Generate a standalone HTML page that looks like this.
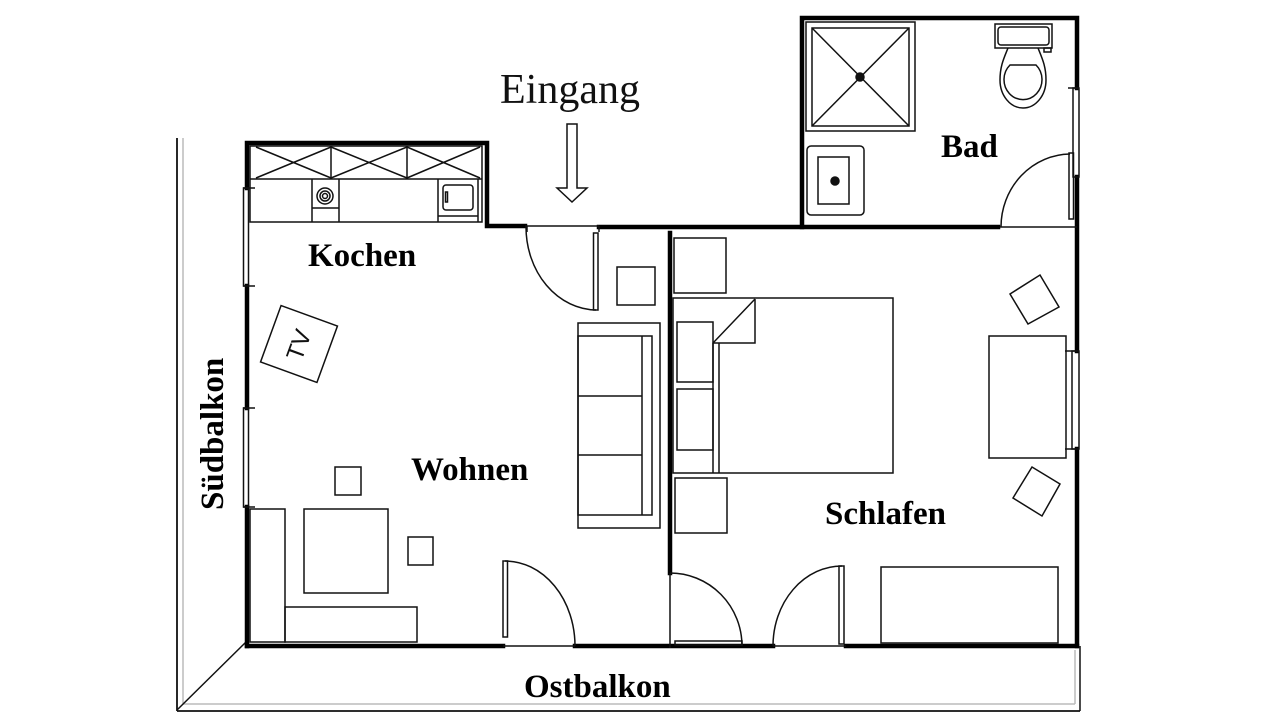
<!DOCTYPE html>
<html><head><meta charset="utf-8"><style>
html,body{margin:0;padding:0;background:#fff;}
svg{display:block;}
.lbl{font-family:"Liberation Serif",serif;font-weight:bold;font-size:33px;fill:#000;}
</style></head><body>
<svg width="1280" height="720" viewBox="0 0 1280 720" xmlns="http://www.w3.org/2000/svg">
<rect width="1280" height="720" fill="#fff"/>

<!-- balcony outline -->
<g fill="none">
<line x1="177" y1="138" x2="177" y2="711" stroke="#111" stroke-width="1.8"/>
<line x1="183" y1="138" x2="183" y2="704" stroke="#bbb" stroke-width="1.5"/>
<line x1="177" y1="711" x2="1080" y2="711" stroke="#111" stroke-width="1.8"/>
<line x1="183" y1="704" x2="1075" y2="704" stroke="#bbb" stroke-width="1.5"/>
<line x1="1080" y1="646" x2="1080" y2="711" stroke="#111" stroke-width="1.5"/>
<line x1="1075" y1="650" x2="1075" y2="704" stroke="#bbb" stroke-width="1.5"/>
<line x1="177" y1="710" x2="246" y2="642" stroke="#111" stroke-width="1.5"/>
</g>

<!-- thick walls -->
<g stroke="#000" stroke-width="4.5" fill="none" stroke-linecap="square">
<polyline points="247,188 247,143 487,143 487,226 525,226"/>
<line x1="247" y1="286" x2="247" y2="408"/>
<line x1="247" y1="507" x2="247" y2="646"/>
<line x1="247" y1="646" x2="503" y2="646"/>
<line x1="575" y1="646" x2="773" y2="646"/>
<line x1="846" y1="646" x2="1077" y2="646"/>
<line x1="599" y1="227" x2="998" y2="227"/>
<polyline points="802,227 802,18 1077,18 1077,88"/>
<line x1="1077" y1="177" x2="1077" y2="351"/>
<line x1="1077" y1="449" x2="1077" y2="646"/>
<line x1="670" y1="233" x2="670" y2="573"/>
</g>

<g stroke="#111" stroke-width="1.5" fill="none">
<!-- windows left -->
<rect x="243.5" y="188" width="5" height="98"/>
<line x1="243" y1="188" x2="255" y2="188"/>
<line x1="243" y1="286" x2="255" y2="286"/>
<rect x="243.5" y="408" width="5" height="99"/>
<line x1="243" y1="408" x2="255" y2="408"/>
<line x1="243" y1="507" x2="255" y2="507"/>
<!-- bath window -->
<rect x="1073" y="88" width="6" height="89"/>
<line x1="1068" y1="88" x2="1079" y2="88"/>
<!-- bedroom window -->
<rect x="1072" y="351" width="7" height="98"/>
<line x1="1065" y1="351" x2="1079" y2="351"/>
<line x1="1065" y1="449" x2="1079" y2="449"/>

<!-- kitchen counter -->
<rect x="250" y="146" width="232" height="76"/>
<line x1="250" y1="179" x2="482" y2="179"/>
<line x1="331" y1="146" x2="331" y2="179"/>
<line x1="407" y1="146" x2="407" y2="179"/>
<line x1="256" y1="147" x2="331" y2="178"/><line x1="256" y1="178" x2="331" y2="147"/>
<line x1="331" y1="147" x2="407" y2="178"/><line x1="331" y1="178" x2="407" y2="147"/>
<line x1="407" y1="147" x2="480" y2="178"/><line x1="407" y1="178" x2="480" y2="147"/>
<line x1="312" y1="179" x2="312" y2="222"/>
<line x1="339" y1="179" x2="339" y2="222"/>
<line x1="312" y1="208" x2="339" y2="208"/>
<circle cx="325" cy="196" r="8"/>
<circle cx="325" cy="196" r="5"/>
<circle cx="325" cy="196" r="2.5"/>
<line x1="438" y1="179" x2="438" y2="222"/>
<line x1="478" y1="179" x2="478" y2="222"/>
<rect x="443" y="185" width="30" height="25" rx="3"/>
<line x1="438" y1="216" x2="478" y2="216"/>
<rect x="445.5" y="192" width="2" height="10"/>

<!-- entrance door -->
<line x1="525" y1="226" x2="599" y2="226"/>
<line x1="527" y1="226" x2="527" y2="232"/>
<line x1="599" y1="226" x2="599" y2="232"/>
<rect x="593.5" y="233" width="4.5" height="77"/>
<path d="M526,227 A71,83 0 0 0 596,310"/>

<!-- bath door -->
<line x1="1000" y1="227" x2="1077" y2="227"/>
<rect x="1069" y="153" width="4.5" height="66"/>
<path d="M1070,154 A70,73 0 0 0 1001,227"/>

<!-- living door bottom -->
<line x1="503" y1="646" x2="575" y2="646"/>
<rect x="503" y="561" width="4.5" height="76"/>
<path d="M505,561 A70,85 0 0 1 575,646"/>

<!-- bedroom left door -->
<line x1="670" y1="573" x2="670" y2="648"/>
<rect x="675" y="641" width="67" height="4"/>
<path d="M670,573 A72,73 0 0 1 742,646"/>

<!-- bedroom balcony door -->
<line x1="773" y1="646" x2="846" y2="646"/>
<rect x="839" y="566" width="5" height="78"/>
<path d="M773,646 A69,80 0 0 1 842,566"/>

<!-- shower -->
<rect x="806" y="22" width="109" height="109"/>
<rect x="812" y="28" width="97" height="98"/>
<line x1="812" y1="28" x2="909" y2="126"/>
<line x1="909" y1="28" x2="812" y2="126"/>
<circle cx="860" cy="77" r="4" fill="#111"/>
<!-- sink -->
<rect x="807" y="146" width="57" height="69" rx="4"/>
<rect x="818" y="157" width="31" height="47"/>
<circle cx="835" cy="181" r="4" fill="#111"/>
<!-- toilet -->
<rect x="995" y="24" width="57" height="24"/>
<rect x="998" y="27" width="51" height="18" rx="3"/>
<rect x="1044" y="48" width="7" height="4"/>
<path d="M1008,48 C1004,58 1000,66 1000,80 A23,28 0 0 0 1046,80 C1046,66 1042,58 1038,48"/>
<path d="M1010,65 L1036,65 A19,20 0 1 1 1010,65 Z"/>

<!-- living furniture -->
<rect x="617" y="267" width="38" height="38"/>
<rect x="578" y="323" width="82" height="205"/>
<rect x="578" y="336" width="74" height="179"/>
<line x1="642" y1="336" x2="642" y2="515"/>
<line x1="578" y1="396" x2="642" y2="396"/>
<line x1="578" y1="455" x2="642" y2="455"/>
<rect x="335" y="467" width="26" height="28"/>
<rect x="304" y="509" width="84" height="84"/>
<rect x="408" y="537" width="25" height="28"/>
<rect x="250" y="509" width="35" height="133"/>
<rect x="285" y="607" width="132" height="35"/>

<!-- TV -->
<g transform="translate(299,344) rotate(20)">
<rect x="-30" y="-30" width="60" height="60"/>
</g>

<!-- bedroom furniture -->
<rect x="674" y="238" width="52" height="55"/>
<rect x="673" y="298" width="220" height="175"/>
<polyline points="713,473 713,343 755,299"/>
<line x1="719" y1="343" x2="719" y2="473"/>
<polyline points="713,343 755,343 755,299"/>
<rect x="677" y="322" width="36" height="60"/>
<rect x="677" y="389" width="36" height="61"/>
<rect x="675" y="478" width="52" height="55"/>
<polygon points="1010,294 1040,275 1059,307 1028,324"/>
<rect x="989" y="336" width="77" height="122"/>
<polygon points="1013,498 1032,467 1060,484 1042,516"/>
<rect x="881" y="567" width="177" height="76"/>

<!-- entrance arrow -->
<polygon points="567,124 577,124 577,188 587,188 572,202 557,188 567,188" fill="#fff"/>
</g>

<!-- labels -->
<text x="500" y="103" font-family="Liberation Serif, serif" font-size="42" fill="#111">Eingang</text>
<text class="lbl" x="308" y="266">Kochen</text>
<text class="lbl" x="941" y="157">Bad</text>
<text class="lbl" x="411" y="480">Wohnen</text>
<text class="lbl" x="825" y="524">Schlafen</text>
<text class="lbl" x="524" y="697">Ostbalkon</text>
<text class="lbl" transform="translate(223,510) rotate(-90)" x="0" y="0">Südbalkon</text>
<text transform="translate(299,345) rotate(-70)" x="0" y="8" text-anchor="middle" font-family="Liberation Sans, sans-serif" font-size="24" fill="#111">TV</text>
</svg>
</body></html>
